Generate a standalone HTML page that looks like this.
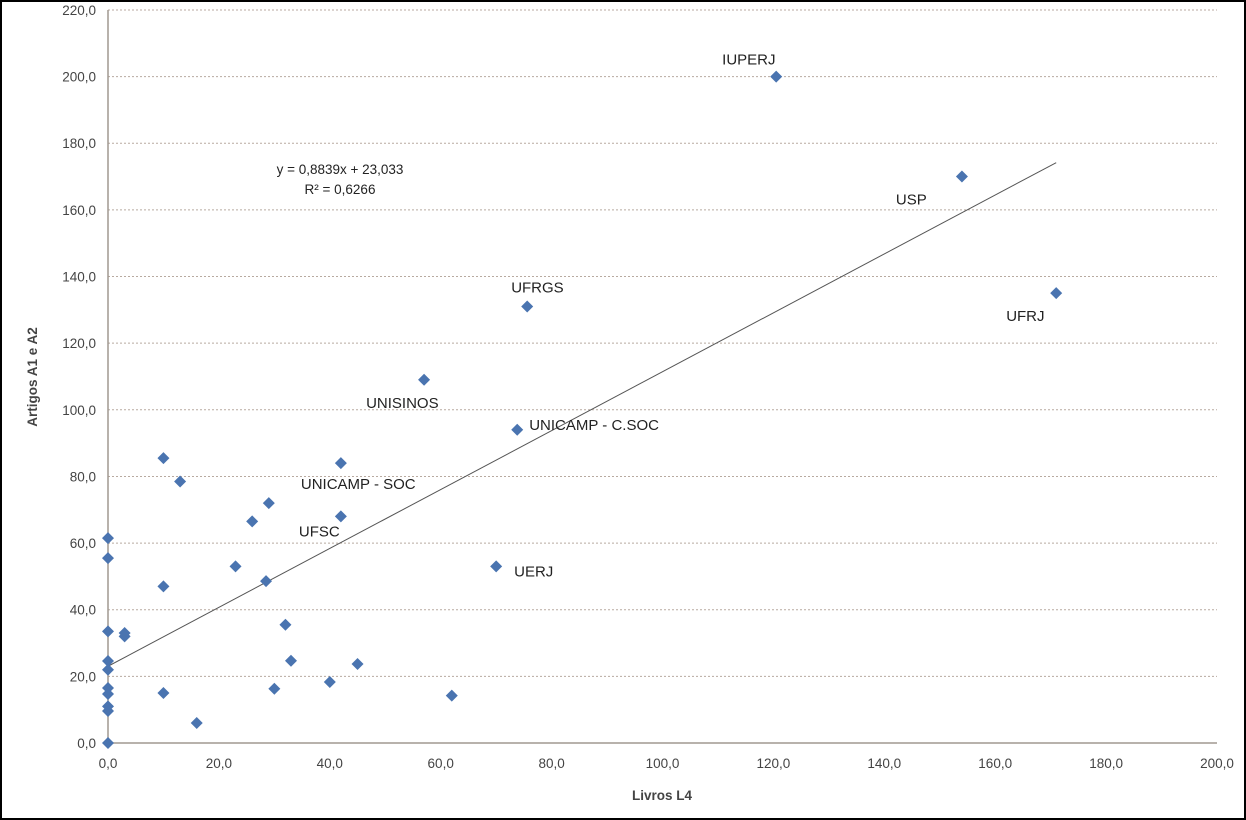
<!DOCTYPE html>
<html><head><meta charset="utf-8"><style>
body{margin:0;background:#fff}
svg{display:block;font-family:"Liberation Sans",sans-serif}
</style></head><body>
<svg id="c" width="1246" height="820">
<rect x="1" y="1" width="1244" height="818" fill="#fff" stroke="#000" stroke-width="2"/>
<g id="grid"></g><g id="axes"></g><g id="marks"></g>
</svg>
<script>
const xs=[0,0,0,0,0,0,0,0,0,0,3,3,10,10,10,13,16,23,26,29,28.5,32,33,30,40,42,42,45,62,57,70,73.8,75.6,120.5,154,171];
const ys=[61.5,55.5,33.5,24.6,22,16.5,14.7,11,9.6,0,33,32,85.5,47,15,78.5,6,53,66.5,72,48.6,35.5,24.7,16.3,18.3,84,68,23.7,14.2,109,53,94,131,200,170,135];
const yTicks=[0,20,40,60,80,100,120,140,160,180,200,220];
const xTicks=[0,20,40,60,80,100,120,140,160,180,200];
const pointLabels=[["IUPERJ",120.5,200,-54,-12],["USP",154,170,-66,28],["UFRGS",75.6,131,-16,-14],["UFRJ",171,135,-50,28],["UNISINOS",57,109,-58,28],["UNICAMP - C.SOC",73.8,94,12,0],["UNICAMP - SOC",42,84,-40,26],["UFSC",42,68,-42,20],["UERJ",70,53,18,10]];
const slope=0.8839,intercept=23.033,trendX=[0,171];
const X=v=>108+v*5.545, Y=v=>743-v*3.332;
const NS="http://www.w3.org/2000/svg";
function mk(t,a,p,txt){const e=document.createElementNS(NS,t);for(const k in a)e.setAttribute(k,a[k]);if(txt!=null)e.textContent=txt;p.appendChild(e);return e;}
const g=document.getElementById('grid'),ax=document.getElementById('axes'),m=document.getElementById('marks');
yTicks.forEach(v=>{
 if(v>0){const l=mk('line',{x1:108,x2:1217,y1:Y(v),y2:Y(v),stroke:'#b8aaa0','stroke-dasharray':'2,2'},g);
 
 }
 const t=mk('text',{x:96,y:Y(v)+5,'text-anchor':'end','font-size':13.5,fill:'#444'},ax,v.toFixed(1).replace('.',','));
 
 
});
xTicks.forEach(v=>{
 const t=mk('text',{x:X(v),y:768,'text-anchor':'middle','font-size':13.5,fill:'#444'},ax,v.toFixed(1).replace('.',','));
 
 
});
let a1=mk('line',{x1:108,x2:108,y1:Y(220),y2:743,stroke:'#a09890','stroke-width':1.5},ax);


let a2=mk('line',{x1:108,x2:1217,y1:743,y2:743,stroke:'#a09890','stroke-width':1.5},ax);


let xt=mk('text',{x:662,y:800,'text-anchor':'middle','font-size':13.5,'font-weight':'bold',fill:'#444'},ax,'Livros L4');


let yt=mk('text',{x:0,y:0,'text-anchor':'middle','font-size':13.5,'font-weight':'bold',fill:'#444',transform:'translate(37,377) rotate(-90)'},ax,'Artigos A1 e A2');


let tl=mk('line',{x1:X(trendX[0]),y1:Y(intercept+slope*trendX[0]),x2:X(trendX[1]),y2:Y(intercept+slope*trendX[1]),stroke:'#555','stroke-width':1},m);


let e1=mk('text',{x:340,y:174,'text-anchor':'middle','font-size':13.5,fill:'#222'},m,'y = 0,8839x + 23,033');


let e2=mk('text',{x:340,y:194,'text-anchor':'middle','font-size':13.5,fill:'#222'},m,'R² = 0,6266');


xs.forEach((x,i)=>{
 const cx=X(x),cy=Y(ys[i]);
 const p=mk('path',{d:`M${cx} ${cy-6}L${cx+6} ${cy}L${cx} ${cy+6}L${cx-6} ${cy}Z`,fill:'#4a74b0'},m);
 
 
});
pointLabels.forEach(l=>{
 const t=mk('text',{x:X(l[1])+l[3],y:Y(l[2])+l[4],'font-size':15,fill:'#222'},m,l[0]);
 
 
});
</script>
</body></html>
